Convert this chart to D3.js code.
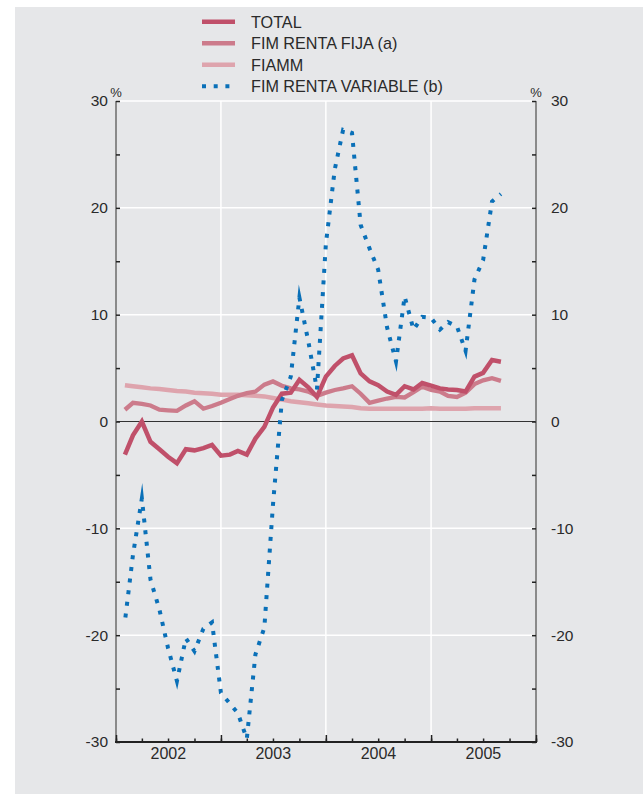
<!DOCTYPE html>
<html><head><meta charset="utf-8">
<script src="https://cdn.jsdelivr.net/npm/d3@7"></script>
<style>
html,body{margin:0;padding:0;background:#fff;}
svg{display:block;}
text{font-family:"Liberation Sans",Arial,Helvetica,sans-serif;fill:#2a2a2a;}
</style></head><body>
<svg id="chart" width="643" height="794"></svg>
<script>
const months = ["2002-01","2002-02","2002-03","2002-04","2002-05","2002-06","2002-07","2002-08","2002-09","2002-10","2002-11","2002-12",
"2003-01","2003-02","2003-03","2003-04","2003-05","2003-06","2003-07","2003-08","2003-09","2003-10","2003-11","2003-12",
"2004-01","2004-02","2004-03","2004-04","2004-05","2004-06","2004-07","2004-08","2004-09","2004-10","2004-11","2004-12",
"2005-01","2005-02","2005-03","2005-04","2005-05","2005-06","2005-07","2005-08"];
const total = [-3.1,-1.3,0.0,-1.9,-2.6,-3.3,-3.9,-2.6,-2.7,-2.5,-2.2,-3.2,
-3.1,-2.75,-3.1,-1.6,-0.5,1.3,2.6,2.7,3.9,3.2,2.3,4.2,
5.2,5.9,6.2,4.5,3.75,3.4,2.8,2.5,3.3,3.0,3.6,3.35,
3.1,3.0,2.95,2.8,4.2,4.55,5.75,5.6];
const rentaFija = [1.1,1.75,1.65,1.5,1.1,1.05,1.0,1.5,1.9,1.2,1.45,1.75,
2.1,2.4,2.65,2.8,3.45,3.75,3.35,3.1,3.0,2.8,2.4,2.7,
2.95,3.1,3.3,2.6,1.75,1.95,2.15,2.3,2.25,2.75,3.25,2.95,
2.8,2.4,2.3,2.7,3.5,3.85,4.05,3.8];
const fiamm = [3.4,3.3,3.2,3.1,3.05,2.95,2.85,2.8,2.7,2.65,2.6,2.5,
2.5,2.5,2.45,2.4,2.35,2.2,2.05,1.9,1.8,1.7,1.6,1.5,
1.45,1.4,1.35,1.25,1.2,1.2,1.2,1.2,1.2,1.2,1.2,1.25,
1.2,1.2,1.2,1.2,1.25,1.25,1.25,1.25];
const rentaVariable = [-18.7,-12.5,-7.2,-14.8,-17.6,-21.2,-24.3,-20.3,-21.5,-19.4,-18.8,-25.4,
-26.4,-27.3,-29.7,-21.8,-19.3,-7.8,2.0,4.2,11.6,7.5,3.0,16.6,
23.6,27.3,27.0,18.4,16.2,14.2,8.8,5.6,11.7,8.6,9.8,9.7,
8.6,9.3,8.9,6.6,13.3,15.1,20.6,21.3];
const yearLabels = ["2002","2003","2004","2005"];
const yTickValues = [-30,-25,-20,-15,-10,-5,0,5,10,15,20,25,30];
const seriesNames = ["TOTAL","FIM RENTA FIJA (a)","FIAMM","FIM RENTA VARIABLE (b)"];
const unitLabel = "%";

const W = 643, H = 794;
const L = 116, R = 536, T = 101, B = 742;
const svg = d3.select("#chart");

svg.append("rect").attr("x",15).attr("y",7).attr("width",W-15).attr("height",H-7).attr("fill","#e6e7e9");

const parse = d3.timeParse("%Y-%m");
const dates = months.map(m => d3.timeMonth.offset(parse(m), 1));
const x = d3.scaleTime().domain([new Date(2002,0,1), new Date(2006,0,1)]).range([L, R]);
const y = d3.scaleLinear().domain([-30, 30]).range([B, T]);

// gridlines
const grid = svg.append("g");
grid.selectAll("line.h").data(yTickValues.filter(v => v % 10 === 0 && v !== 0 && v !== -30))
  .join("line").attr("x1", L).attr("x2", R).attr("y1", d => y(d)).attr("y2", d => y(d))
  .attr("stroke", "#fff").attr("stroke-width", 1.5);
const yearStarts = yearLabels.slice(1).map(s => new Date(+s, 0, 1));
grid.selectAll("line.v").data(yearStarts)
  .join("line").attr("x1", d => x(d)).attr("x2", d => x(d)).attr("y1", T).attr("y2", B)
  .attr("stroke", "#fff").attr("stroke-width", 1.5);

// zero line
svg.append("line").attr("x1", L).attr("x2", R).attr("y1", y(0)).attr("y2", y(0))
  .attr("stroke", "#333").attr("stroke-width", 1.2);

// axes
const yLeft = d3.axisLeft(y).tickValues(yTickValues).tickSize(-4).tickPadding(8)
  .tickFormat(d => d % 10 === 0 ? String(d) : "");
const yRight = d3.axisRight(y).tickValues(yTickValues).tickSize(-4).tickPadding(15)
  .tickFormat(d => d % 10 === 0 ? String(d) : "");
function styleAxis(g){
  g.select(".domain").remove();
  g.selectAll(".tick line").attr("stroke", "#222").attr("stroke-width", 1.5);
  g.selectAll(".tick text").attr("font-size", 15.5).attr("fill", "#2a2a2a")
    .attr("font-family", "'Liberation Sans', Arial, sans-serif");
}
svg.append("line").attr("x1", L).attr("x2", L).attr("y1", T).attr("y2", B).attr("stroke", "#8a8a8a").attr("stroke-width", 2);
svg.append("line").attr("x1", R).attr("x2", R).attr("y1", T).attr("y2", B).attr("stroke", "#8a8a8a").attr("stroke-width", 2);
svg.append("g").attr("transform", `translate(${L},0)`).call(yLeft).call(styleAxis);
svg.append("g").attr("transform", `translate(${R},0)`).call(yRight).call(styleAxis);

const quarters = d3.timeMonths(new Date(2002,0,1), new Date(2006,0,2), 3);
const xQuarter = d3.axisBottom(x).tickValues(quarters).tickSize(-3.5).tickFormat("");
const xYear = d3.axisBottom(x).tickValues(yearLabels.map(s => new Date(+s,0,1)).concat([new Date(2006,0,1)])).tickSize(-7).tickFormat("");
svg.append("g").attr("transform", `translate(0,${B})`).call(xQuarter).call(styleAxis);
svg.append("g").attr("transform", `translate(0,${B})`).call(xYear).call(styleAxis);
svg.append("line").attr("x1", L-1).attr("x2", R+1).attr("y1", B).attr("y2", B).attr("stroke", "#222").attr("stroke-width", 2);

svg.append("g").selectAll("text").data(yearLabels).join("text")
  .attr("x", d => x(new Date(+d, 6, 2))).attr("y", 759).attr("text-anchor", "middle")
  .attr("font-size", 16).text(d => d);

svg.append("text").attr("x", L).attr("y", 97).attr("text-anchor", "middle").attr("font-size", 13).text(unitLabel);
svg.append("text").attr("x", R).attr("y", 97).attr("text-anchor", "middle").attr("font-size", 13).text(unitLabel);

// series
const colors = ["#c0506a", "#cc7b8b", "#dea4ad", "#0a70b8"];
const DASH = 4, GAP = 7.7, PERIOD = DASH + GAP;
const line = d3.line().x((d, i) => x(dates[i])).y(d => y(d));

// choose a dash offset so the sharp turning points fall inside a dash (as in the original)
const pts = rentaVariable.map((v, i) => [x(dates[i]), y(v)]);
const cum = [0];
for (let i = 1; i < pts.length; i++) cum.push(cum[i-1] + Math.hypot(pts[i][0]-pts[i-1][0], pts[i][1]-pts[i-1][1]));
const turnIdx = [2, 14, 20, 31, 32, 39];
let bestOff = 0, bestScore = -1;
for (let o = 0; o < PERIOD; o += 0.05) {
  let s = 0;
  turnIdx.forEach(k => { const ph = ((cum[k] + o) % PERIOD + PERIOD) % PERIOD; if (ph > 0.8 && ph < DASH - 0.8) s++; });
  if (s > bestScore) { bestScore = s; bestOff = o; }
}

const series = [
  {name: seriesNames[2], values: fiamm, color: colors[2], w: 4.5, dash: null, off: 0},
  {name: seriesNames[1], values: rentaFija, color: colors[1], w: 4.3, dash: null, off: 0},
  {name: seriesNames[0], values: total, color: colors[0], w: 4.5, dash: null, off: 0},
  {name: seriesNames[3], values: rentaVariable, color: colors[3], w: 4, dash: DASH + "," + GAP, off: bestOff}
];
svg.append("g").selectAll("path").data(series).join("path")
  .attr("d", d => line(d.values)).attr("fill", "none")
  .attr("stroke", d => d.color).attr("stroke-width", d => d.w)
  .attr("stroke-dasharray", d => d.dash)
  .attr("stroke-dashoffset", d => d.off)
  .attr("stroke-miterlimit", 8);

// legend
const legendRows = [21.7, 43.2, 64.7, 86.2];
const legendItems = seriesNames.map((n, i) => ({name: n, color: colors[i], dash: i === 3 ? DASH + "," + GAP : null, y: legendRows[i], w: i === 3 ? 4 : 4.4}));
const lg = svg.append("g");
lg.selectAll("line").data(legendItems).join("line")
  .attr("x1", 202).attr("x2", 235).attr("y1", d => d.y).attr("y2", d => d.y)
  .attr("stroke", d => d.color).attr("stroke-width", d => d.w).attr("stroke-dasharray", d => d.dash);
lg.selectAll("text").data(legendItems).join("text")
  .attr("x", 251).attr("y", d => d.y + 6).attr("font-size", 16.2).text(d => d.name);
</script>
</body></html>
